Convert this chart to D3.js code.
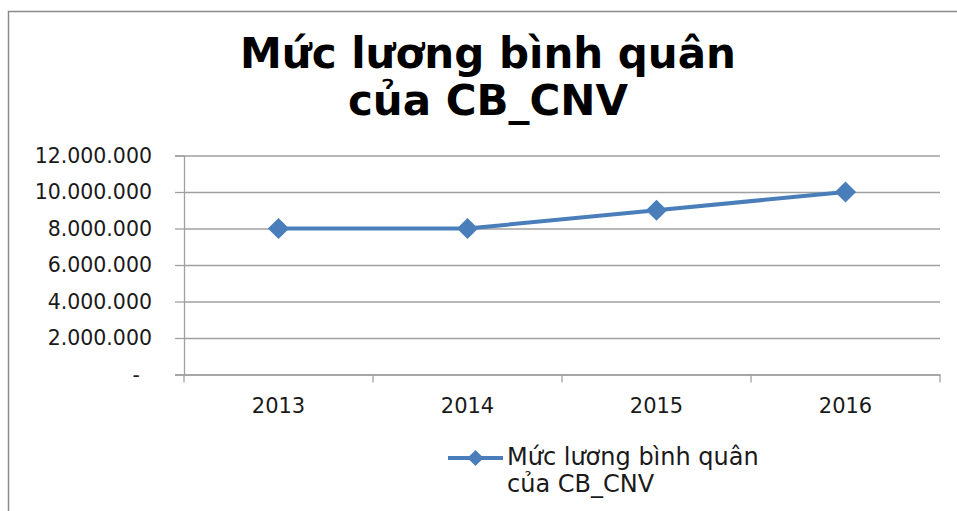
<!DOCTYPE html>
<html>
<head>
<meta charset="utf-8">
<script src="https://cdn.jsdelivr.net/npm/d3@7"></script>
<style>
  body { margin: 0; background: #fff; }
  svg { display: block; font-family: "DejaVu Sans", sans-serif; }
</style>
</head>
<body>
<svg id="chart" width="957" height="511"></svg>
<script>
const years = ["2013", "2014", "2015", "2016"];
const salary = [8000000, 8000000, 9000000, 10000000];
const yTicks = [0, 2000000, 4000000, 6000000, 8000000, 10000000, 12000000];
const titleLines = ["Mức lương bình quân", "của CB_CNV"];
const legendLines = ["Mức lương bình quân", "của CB_CNV"];

const width = 957;
const height = 511;
const plotLeft = 184;
const plotRight = 940;
const plotTop = 155.5;
const plotBottom = 374.5;
const lineColor = "#4a7ebb";
const gridColor = "#a0a0a0";

const svg = d3.select("#chart");

// outer frame (right and bottom fall outside the picture)
svg.append("rect")
  .attr("x", 8.5).attr("y", 11.5)
  .attr("width", 1000).attr("height", 600)
  .attr("fill", "none")
  .attr("stroke", "#8a8a8a")
  .attr("stroke-width", 1.5);

// title
svg.append("text")
  .attr("text-anchor", "middle")
  .attr("font-size", 42)
  .attr("font-weight", "bold")
  .attr("fill", "#000")
  .selectAll("tspan")
  .data(titleLines)
  .join("tspan")
  .attr("x", 488)
  .attr("y", (d, i) => 68 + i * 47)
  .text(d => d);

const x = d3.scaleBand()
  .domain(years)
  .range([plotLeft, plotRight])
  .padding(0);

const y = d3.scaleLinear()
  .domain([0, 12000000])
  .range([plotBottom, plotTop]);

const fmt = d => d === 0 ? "-" : d3.format(",")(d).replace(/,/g, ".");

// gridlines
svg.append("g")
  .attr("transform", `translate(${plotLeft},0)`)
  .call(d3.axisLeft(y).tickValues(yTicks).tickSize(-(plotRight - plotLeft)).tickFormat(""))
  .call(g => g.select(".domain").remove())
  .call(g => g.selectAll("line").attr("stroke", gridColor).attr("stroke-width", 1.3));

// y axis
const yAxis = svg.append("g")
  .attr("transform", `translate(${plotLeft},0)`)
  .call(d3.axisLeft(y).tickValues(yTicks).tickSize(9).tickPadding(23).tickFormat(fmt));
yAxis.select(".domain").attr("stroke", gridColor).attr("stroke-width", 1.3);
yAxis.selectAll("line").attr("stroke", gridColor).attr("stroke-width", 1.3);
yAxis.selectAll("text")
  .attr("font-size", 20.5)
  .attr("font-family", "DejaVu Sans, sans-serif")
  .attr("fill", "#1a1a1a")
  .attr("dx", d => d === 0 ? -12 : 0);

// x axis
const xAxis = svg.append("g")
  .attr("transform", `translate(0,${plotBottom})`)
  .call(d3.axisBottom(x).tickSize(0).tickSizeOuter(0));
xAxis.select(".domain").attr("stroke", gridColor).attr("stroke-width", 1.3);
xAxis.selectAll("text")
  .attr("y", 38.5).attr("dy", 0)
  .attr("font-size", 21)
  .attr("font-family", "DejaVu Sans, sans-serif")
  .attr("fill", "#1a1a1a");
xAxis.selectAll(".boundary")
  .data(years.map(d => x(d)).concat([plotRight]))
  .join("line")
  .attr("class", "boundary")
  .attr("x1", d => d).attr("x2", d => d)
  .attr("y1", 0).attr("y2", 8)
  .attr("stroke", gridColor)
  .attr("stroke-width", 1.3);

// series line
const cx = d => x(d) + x.bandwidth() / 2;
const line = d3.line()
  .x((d, i) => cx(years[i]))
  .y(d => y(d));

svg.append("path")
  .datum(salary)
  .attr("d", line)
  .attr("fill", "none")
  .attr("stroke", lineColor)
  .attr("stroke-width", 4)
  .attr("stroke-linejoin", "round");

const diamond = d3.symbol().type(d3.symbolSquare).size(225);
svg.selectAll(".marker")
  .data(salary)
  .join("path")
  .attr("class", "marker")
  .attr("d", diamond)
  .attr("transform", (d, i) => `translate(${cx(years[i])},${y(d)}) rotate(45)`)
  .attr("fill", lineColor);

// legend
const legend = svg.append("g").attr("transform", "translate(448,458)");
legend.append("line")
  .attr("x1", 0).attr("x2", 55)
  .attr("y1", 0).attr("y2", 0)
  .attr("stroke", lineColor)
  .attr("stroke-width", 4);
legend.append("path")
  .attr("d", d3.symbol().type(d3.symbolSquare).size(130))
  .attr("transform", "translate(27.5,0) rotate(45)")
  .attr("fill", lineColor);
legend.append("text")
  .attr("font-size", 24)
  .attr("fill", "#1a1a1a")
  .selectAll("tspan")
  .data(legendLines)
  .join("tspan")
  .attr("x", 59)
  .attr("y", (d, i) => 7 + i * 27)
  .text(d => d);
</script>
</body>
</html>
